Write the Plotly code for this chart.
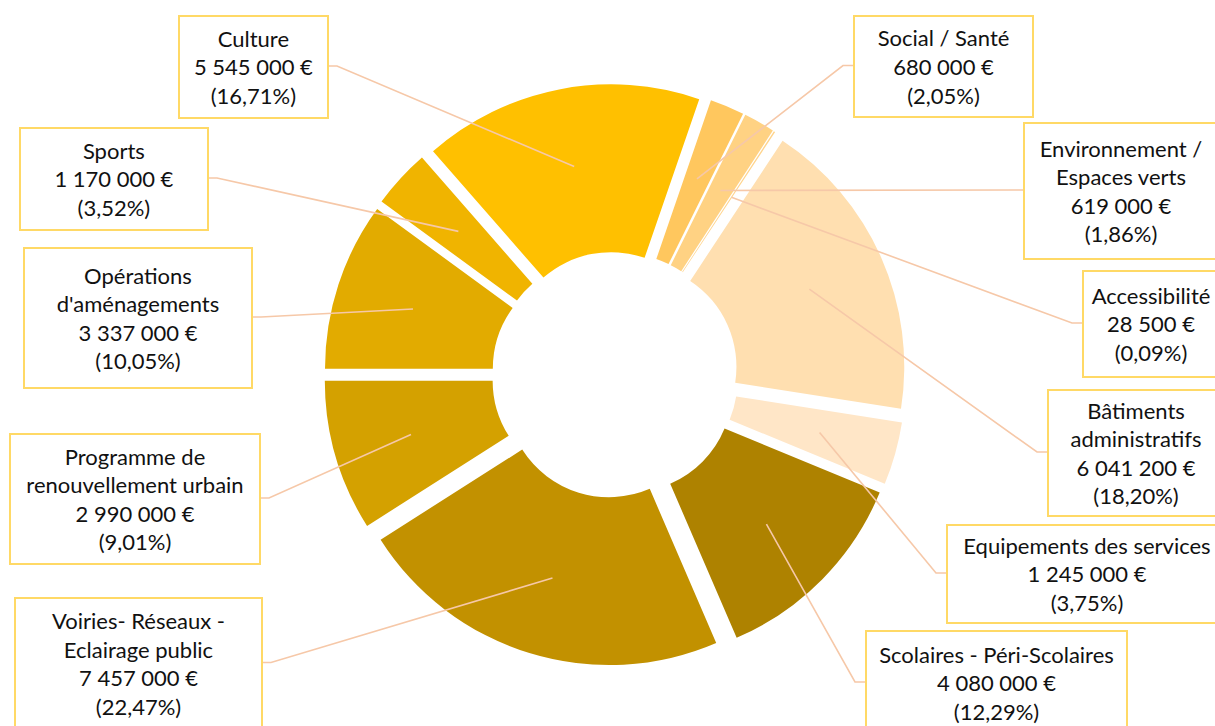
import math
import plotly.graph_objects as go

# ---- data (clockwise from the top) ----
categories = ["Social / Santé", "Environnement / Espaces verts", "Accessibilité",
              "Bâtiments administratifs", "Equipements des services",
              "Scolaires - Péri-Scolaires", "Voiries- Réseaux - Eclairage public",
              "Programme de renouvellement urbain", "Opérations d'aménagements",
              "Sports", "Culture"]
label_lines = ["Social / Santé", "Environnement /<br>Espaces verts", "Accessibilité",
               "Bâtiments<br>administratifs", "Equipements des services",
               "Scolaires - Péri-Scolaires", "Voiries- Réseaux -<br>Eclairage public",
               "Programme de<br>renouvellement urbain", "Opérations<br>d'aménagements",
               "Sports", "Culture"]
values = [680000, 619000, 28500, 6041200, 1245000, 4080000, 7457000, 2990000,
          3337000, 1170000, 5545000]
colors = ["#FFC75E", "#FFD283", "#FFD48C", "#FFDFB0", "#FFE6C7", "#AE8200",
          "#C29100", "#D4A100", "#E2AB00", "#F0B400", "#FFC000"]

W, H = 1215, 726
# pie geometry (pixels)
cx, cy, R = 615, 375, 291
rotation = 19
pull = 0.075
hole = 0.38

# label boxes (pixels: left, top, right, bottom) and attachment side
boxes = [
    (853, 15, 1032, 116, "L"),
    (1023, 122, 1217, 258, "L"),
    (1082, 270, 1218, 376, "L"),
    (1047, 389, 1223, 515, "L"),
    (946, 524, 1226, 622, "L"),
    (865, 630, 1126, 734, "L"),
    (14, 597, 261, 728, "R"),
    (9, 433, 259, 563, "R"),
    (23, 247, 251, 387, "R"),
    (19, 127, 207, 229, "R"),
    (178, 15, 327, 117, "R"),
]

total = sum(values)

def fmt_money(v):
    return f"{v:,.0f}".replace(",", " ") + " €"

def fmt_pct(v):
    return "(" + f"{100 * v / total:.2f}".replace(".", ",") + "%)"

def px(x):
    return x / W

def py(y):
    return 1 - y / H

fig = go.Figure(go.Pie(
    labels=categories, values=values, sort=False, direction="clockwise",
    rotation=rotation, hole=hole, pull=pull, textinfo="none",
    hoverinfo="label+value+percent",
    marker=dict(colors=colors, line=dict(width=0)),
    domain=dict(x=[px(cx - R), px(cx + R)], y=[py(cy + R), py(cy - R)]),
    showlegend=False,
))

r0 = R / (1 + pull)
r_pt = pull * r0 + 0.71 * r0

shapes = []
annotations = []
cum = 0
for cat, lines, v, (l, t, r, b, side) in zip(categories, label_lines, values, boxes):
    mid = math.radians(rotation + 360 * (cum + v / 2) / total)
    cum += v
    ex = cx + r_pt * math.sin(mid)
    ey = cy - r_pt * math.cos(mid)
    ym = (t + b) / 2
    if side == "R":
        sx, kx = r, r + 10
    else:
        sx, kx = l, l - 10
    shapes.append(dict(
        type="path", xref="paper", yref="paper",
        path=f"M {px(sx)},{py(ym)} L {px(kx)},{py(ym)} L {px(ex)},{py(ey)}",
        line=dict(color="#F6C8A8", width=1.6), layer="above"))
    annotations.append(dict(
        xref="paper", yref="paper", x=px(l), y=py(t), xanchor="left", yanchor="top",
        width=r - l - 2, height=b - t - 2, align="center", valign="middle",
        text=f"{lines}<br>{fmt_money(v)}<br>{fmt_pct(v)}", showarrow=False,
        bordercolor="#FFD966", borderwidth=2, borderpad=0, bgcolor="#FFFFFF",
        font=dict(family="Lato", size=22, color="#111111")))

fig.update_layout(
    width=W, height=H, margin=dict(l=0, r=0, t=0, b=0),
    paper_bgcolor="#FFFFFF", plot_bgcolor="#FFFFFF",
    shapes=shapes, annotations=annotations,
)

fig.write_html("out.html")
